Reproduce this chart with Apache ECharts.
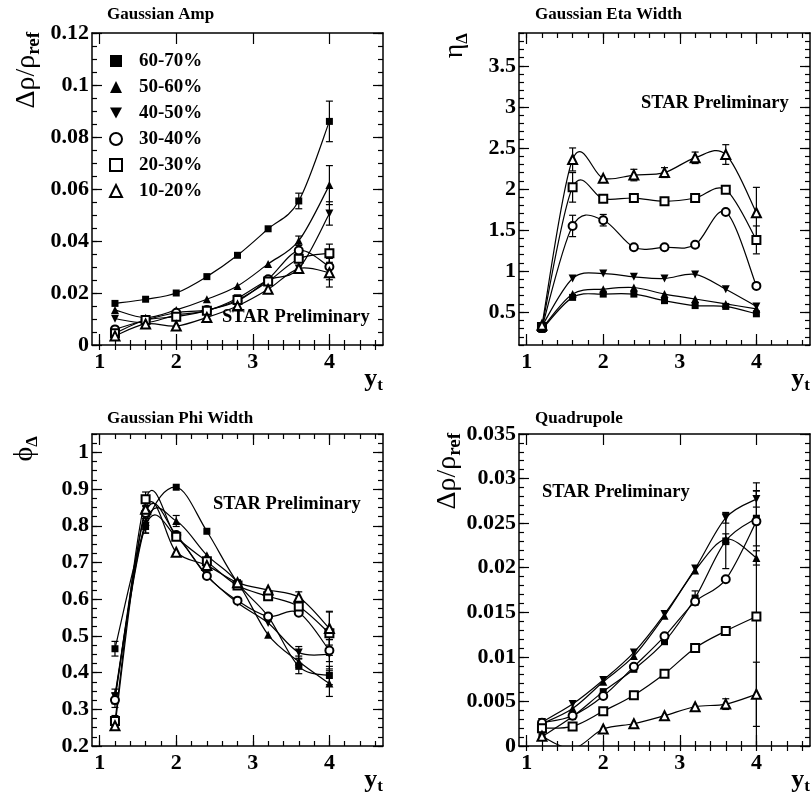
<!DOCTYPE html>
<html>
<head>
<meta charset="utf-8">
<script src="https://cdn.jsdelivr.net/npm/echarts@6/dist/echarts.min.js"></script>
<style>
  html, body { margin: 0; padding: 0; background: #fff; }
  #main { width: 812px; height: 802px; }
</style>
</head>
<body>
<div id="main"></div>
<script>
// y_t bins, shared by all panels
const yt = [1.2, 1.6, 2.0, 2.4, 2.8, 3.2, 3.6, 4.0]
const centralities = ['60-70%', '50-60%', '40-50%', '30-40%', '20-30%', '10-20%']

// Gaussian Amp
const amp6070 = [0.0160, 0.0176, 0.0200, 0.0263, 0.0345, 0.0447, 0.0554, 0.0860]
const amp6070Err = [0.0005, 0.0005, 0.0005, 0.0005, 0.0006, 0.0008, 0.0030, 0.0078]
const amp5060 = [0.0135, 0.0105, 0.0135, 0.0176, 0.0227, 0.0312, 0.0401, 0.0615]
const amp5060Err = [0.0005, 0.0005, 0.0005, 0.0005, 0.0006, 0.0008, 0.0018, 0.0075]
const amp4050 = [0.0101, 0.0086, 0.0115, 0.0132, 0.0180, 0.0250, 0.0294, 0.0506]
const amp4050Err = [0.0005, 0.0005, 0.0005, 0.0005, 0.0006, 0.0008, 0.0012, 0.0045]
const amp3040 = [0.0060, 0.0096, 0.0124, 0.0135, 0.0169, 0.0253, 0.0363, 0.0301]
const amp3040Err = [0.0005, 0.0005, 0.0005, 0.0005, 0.0006, 0.0008, 0.0010, 0.0050]
const amp2030 = [0.0045, 0.0096, 0.0109, 0.0132, 0.0173, 0.0244, 0.0332, 0.0353]
const amp2030Err = [0.0005, 0.0005, 0.0005, 0.0005, 0.0006, 0.0008, 0.0010, 0.0035]
const amp1020 = [0.0035, 0.0081, 0.0073, 0.0106, 0.0150, 0.0214, 0.0294, 0.0278]
const amp1020Err = [0.0005, 0.0005, 0.0005, 0.0005, 0.0006, 0.0008, 0.0010, 0.0055]

// Gaussian Eta Width
const eta6070 = [0.29, 0.68, 0.72, 0.72, 0.64, 0.58, 0.57, 0.48]
const eta6070Err = [0.02, 0.02, 0.02, 0.02, 0.02, 0.02, 0.02, 0.03]
const eta5060 = [0.30, 0.72, 0.78, 0.80, 0.72, 0.66, 0.60, 0.54]
const eta5060Err = [0.02, 0.02, 0.02, 0.02, 0.02, 0.02, 0.02, 0.03]
const eta4050 = [0.33, 0.91, 0.97, 0.93, 0.91, 0.96, 0.78, 0.57]
const eta4050Err = [0.02, 0.02, 0.02, 0.02, 0.02, 0.02, 0.05, 0.05]
const eta3040 = [0.31, 1.55, 1.62, 1.29, 1.29, 1.32, 1.72, 0.82]
const eta3040Err = [0.02, 0.13, 0.07, 0.02, 0.02, 0.02, 0.03, 0.03]
const eta2030 = [0.32, 2.02, 1.88, 1.89, 1.85, 1.89, 1.99, 1.38]
const eta2030Err = [0.02, 0.18, 0.03, 0.03, 0.03, 0.04, 0.03, 0.17]
const eta1020 = [0.34, 2.36, 2.13, 2.17, 2.20, 2.38, 2.42, 1.71]
const eta1020Err = [0.02, 0.14, 0.03, 0.07, 0.06, 0.07, 0.12, 0.31]

// Gaussian Phi Width
const phi6070 = [0.465, 0.800, 0.905, 0.785, 0.645, 0.553, 0.417, 0.392]
const phi6070Err = [0.020, 0.020, 0.012, 0.008, 0.008, 0.010, 0.020, 0.025]
const phi5060 = [0.340, 0.810, 0.813, 0.720, 0.645, 0.503, 0.430, 0.370]
const phi5060Err = [0.010, 0.020, 0.015, 0.008, 0.008, 0.008, 0.015, 0.035]
const phi4050 = [0.335, 0.800, 0.770, 0.665, 0.590, 0.535, 0.455, 0.450]
const phi4050Err = [0.020, 0.020, 0.010, 0.008, 0.008, 0.010, 0.016, 0.040]
const phi3040 = [0.325, 0.835, 0.775, 0.663, 0.596, 0.553, 0.563, 0.460]
const phi3040Err = [0.020, 0.020, 0.010, 0.006, 0.006, 0.008, 0.012, 0.030]
const phi2030 = [0.268, 0.872, 0.770, 0.703, 0.637, 0.608, 0.580, 0.507]
const phi2030Err = [0.015, 0.020, 0.010, 0.010, 0.008, 0.010, 0.012, 0.060]
const phi1020 = [0.255, 0.845, 0.728, 0.692, 0.645, 0.625, 0.605, 0.520]
const phi1020Err = [0.010, 0.020, 0.010, 0.010, 0.008, 0.010, 0.015, 0.045]

// Quadrupole
const quad6070 = [0.00105, 0.0033, 0.0061, 0.0086, 0.0117, 0.0166, 0.0230, 0.02555]
const quad6070Err = [0.0002, 0.0003, 0.0003, 0.0003, 0.0005, 0.0008, 0.0031, 0.0031]
const quad5060 = [0.0025, 0.0042, 0.0072, 0.0101, 0.0146, 0.0197, 0.0232, 0.0211]
const quad5060Err = [0.0002, 0.0003, 0.0003, 0.0003, 0.0003, 0.0004, 0.0006, 0.0008]
const quad4050 = [0.0027, 0.0047, 0.0074, 0.0105, 0.0148, 0.0199, 0.0256, 0.0277]
const quad4050Err = [0.0002, 0.0003, 0.0003, 0.0003, 0.0003, 0.0004, 0.0006, 0.0009]
const quad3040 = [0.0026, 0.0034, 0.0056, 0.0089, 0.0123, 0.0162, 0.0187, 0.0252]
const quad3040Err = [0.0002, 0.0003, 0.0003, 0.0003, 0.0003, 0.0005, 0.0004, 0.0005]
const quad2030 = [0.0020, 0.0022, 0.0039, 0.0057, 0.0081, 0.0110, 0.0129, 0.01452]
const quad2030Err = [0.0002, 0.0003, 0.0003, 0.0003, 0.0003, 0.0003, 0.0004, 0.0150]
const quad1020 = [0.0011, -0.0003, 0.0019, 0.0025, 0.0034, 0.0044, 0.0047, 0.0058]
const quad1020Err = [0.0002, 0.0003, 0.0003, 0.0003, 0.0003, 0.0003, 0.0006, 0.0036]

const panels = [
  { yMin: 0, yMax: 0.12, yStep: 0.02, yMinor: 0.005,
    rows: [[amp6070, amp6070Err], [amp5060, amp5060Err], [amp4050, amp4050Err],
           [amp3040, amp3040Err], [amp2030, amp2030Err], [amp1020, amp1020Err]] },
  { yMin: 0.1, yMax: 3.9, yStep: 0.5, yMinor: 0.1,
    rows: [[eta6070, eta6070Err], [eta5060, eta5060Err], [eta4050, eta4050Err],
           [eta3040, eta3040Err], [eta2030, eta2030Err], [eta1020, eta1020Err]] },
  { yMin: 0.2, yMax: 1.05, yStep: 0.1, yMinor: 0.025,
    rows: [[phi6070, phi6070Err], [phi5060, phi5060Err], [phi4050, phi4050Err],
           [phi3040, phi3040Err], [phi2030, phi2030Err], [phi1020, phi1020Err]] },
  { yMin: 0, yMax: 0.035, yStep: 0.005, yMinor: 0.001,
    rows: [[quad6070, quad6070Err], [quad5060, quad5060Err], [quad4050, quad4050Err],
           [quad3040, quad3040Err], [quad2030, quad2030Err], [quad1020, quad1020Err]] }
]

const downTri = 'path://M0,0 L10,0 L5,9 Z'
const markers = [
  { symbol: 'rect', size: 7, filled: true },
  { symbol: 'triangle', size: 8, filled: true },
  { symbol: 'triangle', size: 8, filled: true, rotate: 180 },
  { symbol: 'emptyCircle', size: 8 },
  { symbol: 'emptyRect', size: 8 },
  { symbol: 'emptyTriangle', size: 9 }
]

const FONT = 'Liberation Serif'
const grids = [
  { left: 92, top: 33, width: 291, height: 312 },
  { left: 519, top: 33, width: 291, height: 312 },
  { left: 92, top: 434, width: 291, height: 312 },
  { left: 519, top: 434, width: 291, height: 312 }
]

function stepTicks(min, max, step) {
  const out = []
  for (let k = Math.ceil(min / step - 1e-9); k * step <= max + 1e-9; k++) {
    out.push(+(k * step).toFixed(6))
  }
  return out
}
const fmt = v => String(+(+v).toFixed(6))

const xAxes = []
const yAxes = []
const series = []

panels.forEach((p, g) => {
  const xMajor = [1, 2, 3, 4]
  const xMinor = stepTicks(0.9, 4.7, 0.2)
  const yMajor = stepTicks(p.yMin, p.yMax, p.yStep)
  const yMinorT = stepTicks(p.yMin, p.yMax, p.yMinor)
  const frame = { show: true, onZero: false, lineStyle: { color: '#000', width: 1.5 } }
  const tickStyle = { color: '#000', width: 1.2 }
  const label = { show: true, color: '#000', fontFamily: FONT, fontWeight: 'bold', fontSize: 22, formatter: fmt }
  const gr = grids[g]

  // x: bottom major / bottom minor / top major / top minor
  ;[['bottom', true], ['bottom', false], ['top', true], ['top', false]].forEach(([pos, major]) => {
    xAxes.push({
      gridIndex: g, type: 'value', position: pos, min: 0.9, max: 4.7,
      axisLine: major ? frame : { show: false },
      axisTick: { show: true, inside: true, length: major ? 11 : 5, customValues: major ? xMajor : xMinor, lineStyle: tickStyle },
      axisLabel: (major && pos === 'bottom') ? Object.assign({ customValues: xMajor, margin: 6 }, label) : { show: false },
      splitLine: { show: false }
    })
  })
  ;[['left', true], ['left', false], ['right', true], ['right', false]].forEach(([pos, major]) => {
    yAxes.push({
      gridIndex: g, type: 'value', position: pos, min: p.yMin, max: p.yMax,
      axisLine: major ? frame : { show: false },
      axisTick: { show: true, inside: true, length: major ? 10 : 5, customValues: major ? yMajor : yMinorT, lineStyle: tickStyle },
      axisLabel: (major && pos === 'left') ? Object.assign({ customValues: yMajor, margin: 3 }, label) : { show: false },
      splitLine: { show: false }
    })
  })

  // clip rectangle of this panel, taken from the grid it belongs to
  const clipShape = { x: gr.left, y: gr.top, width: gr.width, height: gr.height }

  p.rows.forEach(([vals, errs], s) => {
    const n = vals.length
    const pts = vals.map((v, i) => [yt[i], v])
    // smooth curve through the points (Catmull-Rom segments between neighbours)
    series.push({
      type: 'custom', xAxisIndex: 4 * g, yAxisIndex: 4 * g, silent: true, clip: true, z: 2,
      data: pts,
      renderItem(params, api) {
        const i = params.dataIndex
        if (i >= n - 1) return
        const c = k => {
          const j = Math.max(0, Math.min(n - 1, k))
          return api.coord([yt[j], vals[j]])
        }
        const p0 = c(i - 1), p1 = c(i), p2 = c(i + 1), p3 = c(i + 2)
        return {
          type: 'group',
          clipPath: { type: 'rect', shape: clipShape },
          children: [{
            type: 'bezierCurve',
            shape: {
              x1: p1[0], y1: p1[1], x2: p2[0], y2: p2[1],
              cpx1: p1[0] + (p2[0] - p0[0]) / 6, cpy1: p1[1] + (p2[1] - p0[1]) / 6,
              cpx2: p2[0] - (p3[0] - p1[0]) / 6, cpy2: p2[1] - (p3[1] - p1[1]) / 6
            },
            style: { stroke: '#000', lineWidth: 1.2, fill: 'none' }
          }]
        }
      }
    })
    // error bars
    series.push({
      type: 'custom', xAxisIndex: 4 * g, yAxisIndex: 4 * g, silent: true, clip: true, z: 3,
      data: pts.map((pt, i) => [pt[0], pt[1], errs[i]]),
      renderItem(params, api) {
        const i = params.dataIndex
        const mid = api.coord([yt[i], vals[i]])
        const top = api.coord([yt[i], vals[i] + errs[i]])
        const bot = api.coord([yt[i], vals[i] - errs[i]])
        if (mid[1] - top[1] < 4.5) return
        const st = { stroke: '#000', lineWidth: 1.2 }
        return {
          type: 'group',
          clipPath: { type: 'rect', shape: clipShape },
          children: [
            { type: 'line', shape: { x1: mid[0], y1: top[1], x2: mid[0], y2: bot[1] }, style: st },
            { type: 'line', shape: { x1: mid[0] - 3.5, y1: top[1], x2: mid[0] + 3.5, y2: top[1] }, style: st },
            { type: 'line', shape: { x1: mid[0] - 3.5, y1: bot[1], x2: mid[0] + 3.5, y2: bot[1] }, style: st }
          ]
        }
      }
    })
    const m = markers[s]
    series.push({
      type: 'scatter', name: centralities[s], xAxisIndex: 4 * g, yAxisIndex: 4 * g, z: 4, clip: true,
      symbol: m.symbol, symbolSize: m.size, symbolRotate: m.rotate || 0,
      itemStyle: m.filled ? { color: '#000', opacity: 1 } : { color: '#000', borderColor: '#000', borderWidth: 1.2, opacity: 1 },
      data: pts
    })
  })
})

function txt(x, y, text, size, align) {
  return {
    type: 'text', x, y, z: 100,
    style: { text, fill: '#000', font: `bold ${size}px "${FONT}"`, align: align || 'left', verticalAlign: 'middle' }
  }
}
function richTxt(x, y, text, rich, align, rotation) {
  return {
    type: 'text', x, y, z: 100, rotation: rotation || 0,
    style: { text, rich, fill: '#000', align, verticalAlign: 'middle' }
  }
}
const subRich = (mainSize, subSize, mainWeight, pad) => ({
  a: { fontFamily: FONT, fontSize: mainSize, fontWeight: mainWeight, lineHeight: mainSize + 2, fill: '#000', color: '#000' },
  s: { fontFamily: FONT, fontSize: subSize, fontWeight: 'bold', lineHeight: subSize, padding: [pad, 0, 0, 0], fill: '#000', color: '#000' }
})
const ytRich = subRich(26, 17, 'bold', 14)
const ratioRich = subRich(28, 19, 'normal', 15)
const greekRich = subRich(28, 17, 'normal', 15)

const graphics = [
  txt(107, 15, 'Gaussian Amp', 17),
  txt(535, 15, 'Gaussian Eta Width', 17),
  txt(107, 419, 'Gaussian Phi Width', 17),
  txt(535, 419, 'Quadrupole', 17),
  txt(222, 317, 'STAR Preliminary', 18.5),
  txt(641, 103, 'STAR Preliminary', 18.5),
  txt(213, 504, 'STAR Preliminary', 18.5),
  txt(542, 492, 'STAR Preliminary', 18.5),
  richTxt(383, 379, '{a|y}{s|t}', ytRich, 'right'),
  richTxt(810, 379, '{a|y}{s|t}', ytRich, 'right'),
  richTxt(383, 780, '{a|y}{s|t}', ytRich, 'right'),
  richTxt(810, 780, '{a|y}{s|t}', ytRich, 'right'),
  richTxt(27, 32, '{a|Δρ/ρ}{s|ref}', ratioRich, 'right', Math.PI / 2),
  richTxt(455, 33, '{a|η}{s|Δ}', greekRich, 'right', Math.PI / 2),
  richTxt(25, 436, '{a|ϕ}{s|Δ}', greekRich, 'right', Math.PI / 2),
  richTxt(448, 433, '{a|Δρ/ρ}{s|ref}', ratioRich, 'right', Math.PI / 2)
]

const chart = echarts.init(document.getElementById('main'), null, { renderer: 'canvas' })
chart.setOption({
  animation: false,
  backgroundColor: '#fff',
  grid: grids,
  xAxis: xAxes,
  yAxis: yAxes,
  legend: {
    left: 104, top: 46, orient: 'vertical',
    itemWidth: 12, itemHeight: 12, itemGap: 6,
    selectedMode: false,
    data: centralities.map((name, s) => (s === 2 ? { name, icon: downTri } : { name })),
    itemStyle: { opacity: 1 },
    textStyle: { fontFamily: FONT, fontWeight: 'bold', fontSize: 19, lineHeight: 20, color: '#000', padding: [0, 0, 0, 12] }
  },
  graphic: graphics,
  series
})
window.onresize = () => chart.resize()
</script>
</body>
</html>
